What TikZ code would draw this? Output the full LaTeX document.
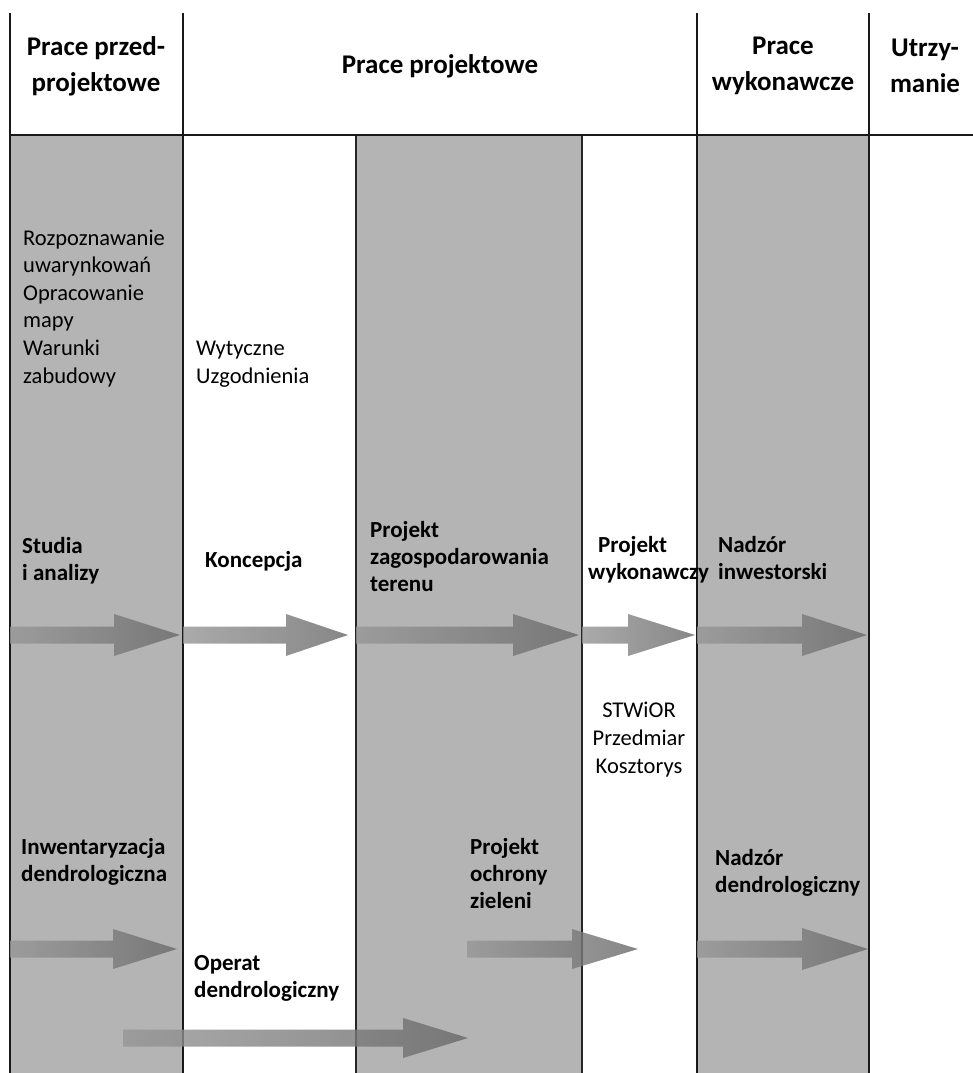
\documentclass[tikz,border=0pt]{standalone}
\usepackage{fontspec}
\setmainfont{Carlito}
\definecolor{colgray}{RGB}{180,180,180}
\definecolor{arrgray}{RGB}{105,105,105}
\newcommand\blockarrow[5]{% start, head base, tip, centre y, half head
  \path[blk] (#1,#4-8.5) -- (#2,#4-8.5) -- (#2,#4-#5) -- (#3,#4) -- (#2,#4+#5) -- (#2,#4+8.5) -- (#1,#4+8.5) -- cycle;}
\begin{document}
\begin{tikzpicture}[x=1pt,y=-1pt,
  colfill/.style={fill=colgray},
  colline/.style={draw=black!85, line width=1.2pt},
  hdrline/.style={draw=black!90, line width=1.8pt},
  blk/.style={left color=arrgray!70!white, right color=arrgray, fill opacity=0.8},
  txt/.style={inner sep=0pt, anchor=base west, align=left, font=\fontsize{22.5}{27.6}\selectfont},
  btxt/.style={inner sep=0pt, anchor=base west, align=left, font=\fontsize{23}{27}\selectfont\bfseries},
  hdr/.style={inner sep=0pt, align=center, font=\fontsize{27}{36}\selectfont\bfseries}]
\useasboundingbox (0,0) rectangle (973,1073);
\fill[white] (0,0) rectangle (973,1073);
% grey columns
\fill[colfill] (10,135) rectangle (183,1073);
\fill[colfill] (356,135) rectangle (582,1073);
\fill[colfill] (697,135) rectangle (869,1073);
% column borders
\draw[colline] (356,135) -- (356,1073);
\draw[colline] (582,135) -- (582,1073);
\draw[hdrline] (10,13) -- (10,1073);
\draw[hdrline] (183,13) -- (183,1073);
\draw[hdrline] (697,13) -- (697,1073);
\draw[hdrline] (869,13) -- (869,1073);
\draw[hdrline] (10,135) -- (973,135);
% header
\node[hdr] (h1) at (96,66) {Prace przed-\\projektowe};
\node[hdr] (h2) at (440,66) {Prace projektowe};
\node[hdr] (h3) at (783,66) {Prace\\wykonawcze};
\node[hdr] (h4) at (925,66) {Utrzy-\\manie};
% arrows
\blockarrow{10}{114}{180}{635}{21}
\blockarrow{183}{286}{348}{635}{21}
\blockarrow{356}{513}{579}{635}{21}
\blockarrow{582}{628}{695}{635}{21}
\blockarrow{697}{802}{867}{635}{21}
\blockarrow{10}{113}{177}{949}{20}
\blockarrow{123}{403}{468}{1038}{20}
\blockarrow{467}{572}{638}{949}{20}
\blockarrow{697}{802}{868}{949}{21}
% texts (anchor = baseline of last line)
\node[txt] (rozp) at (23,383) {Rozpoznawanie\\uwarynkowań\\Opracowanie\\mapy\\Warunki\\zabudowy};
\node[txt] (wyt) at (196,383) {Wytyczne\\Uzgodnienia};
\node[btxt] (stud) at (22,580) {Studia\\i analizy};
\node[btxt] (konc) at (205,567) {Koncepcja};
\node[btxt] (pzt) at (370,591) {Projekt\\zagospodarowania\\terenu};
\node[btxt] (pw) at (588,579) {\hspace*{10pt}Projekt\\wykonawczy};
\node[btxt] (ni) at (718,579) {Nadzór\\inwestorski};
\node[txt, anchor=base, align=center] (stw) at (639,773) {STWiOR\\Przedmiar\\Kosztorys};
\node[btxt] (inw) at (21,881) {Inwentaryzacja\\dendrologiczna};
\node[btxt] (op) at (194,997) {Operat\\dendrologiczny};
\node[btxt] (poz) at (470,908) {Projekt\\ochrony\\zieleni};
\node[btxt] (nd) at (715,892) {Nadzór\\dendrologiczny};
\end{tikzpicture}
\end{document}
